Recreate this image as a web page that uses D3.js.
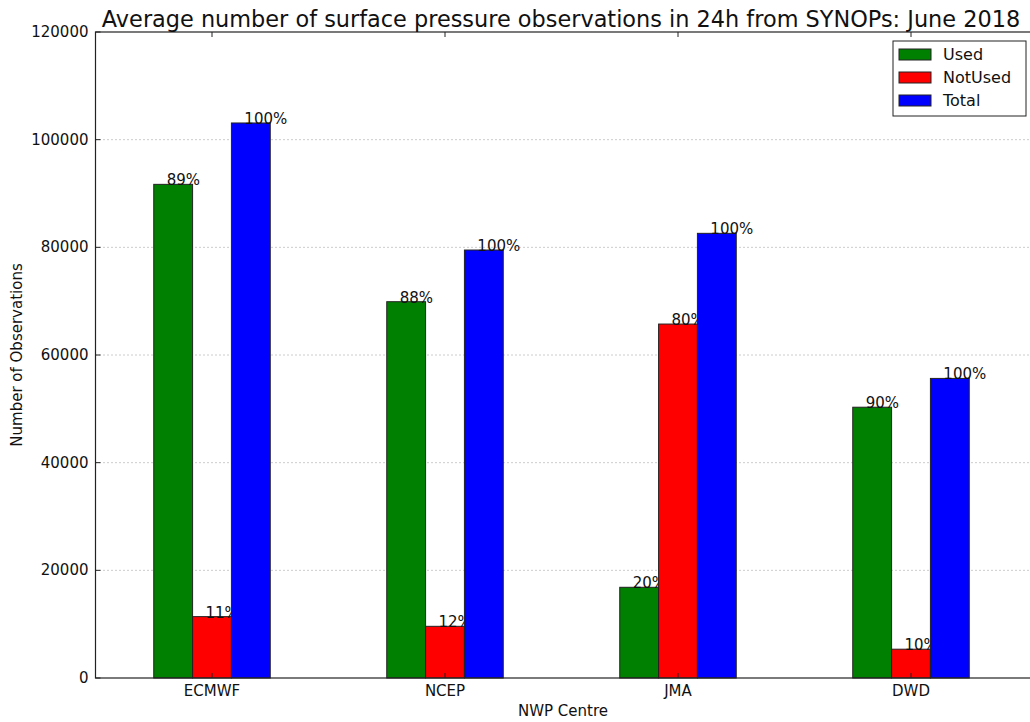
<!DOCTYPE html>
<html>
<head>
<meta charset="utf-8">
<script src="https://cdn.jsdelivr.net/npm/d3@7"></script>
<style>
  body { margin: 0; background: #fff; }
  svg { display: block; font-family: "DejaVu Sans", sans-serif; }
</style>
</head>
<body>
<svg id="chart" width="1030" height="722"></svg>
<script>
// data
const centres = ["ECMWF", "NCEP", "JMA", "DWD"];
const used = [91700, 69900, 16850, 50300];
const notUsed = [11400, 9600, 65750, 5350];
const total = [103100, 79500, 82600, 55650];
const usedPct = ["89%", "88%", "20%", "90%"];
const notUsedPct = ["11%", "12%", "80%", "10%"];
const totalPct = ["100%", "100%", "100%", "100%"];
const seriesNames = ["Used", "NotUsed", "Total"];
const seriesColors = ["#008000", "#ff0000", "#0000ff"];
const yTicks = [0, 20000, 40000, 60000, 80000, 100000, 120000];

const svg = d3.select("#chart");
const pLeft = 95.5, pRight = 1038, pTop = 32, pBottom = 678;

let x = d3.scaleLinear().domain([-0.5, 3.54]).range([pLeft, pLeft + 4.04 * 233]);
let y = d3.scaleLinear().domain([0, 120000]).range([pBottom, pTop]);
const barW = x(1 / 6) - x(0);

// grid lines
svg.append("g")
    .selectAll("line")
    .data(yTicks.slice(1, -1))
    .join("line")
    .attr("x1", pLeft).attr("x2", pRight)
    .attr("y1", d => y(d)).attr("y2", d => y(d))
    .attr("stroke", "#999")
    .attr("stroke-width", 1)
    .attr("stroke-dasharray", "1,3");

// bars
const series = [
    { vals: used, pct: usedPct, off: -0.25 },
    { vals: notUsed, pct: notUsedPct, off: -1 / 12 },
    { vals: total, pct: totalPct, off: 1 / 12 }
];
series.forEach(function (s, si) {
    let g = svg.append("g");
    g.selectAll("rect")
        .data(s.vals)
        .join("rect")
        .attr("x", (d, i) => x(i + s.off))
        .attr("y", d => y(d))
        .attr("width", barW)
        .attr("height", d => pBottom - y(d))
        .attr("fill", seriesColors[si])
        .attr("stroke", "#222")
        .attr("stroke-width", 1);
    g.selectAll("text")
        .data(s.vals)
        .join("text")
        .attr("x", (d, i) => x(i + s.off) + barW / 3)
        .attr("y", d => y(d) + 1)
        .attr("font-size", "15px")
        .attr("fill", "#111")
        .text((d, i) => s.pct[i]);
});

// axes frame
svg.append("rect")
    .attr("x", pLeft).attr("y", pTop)
    .attr("width", pRight - pLeft).attr("height", pBottom - pTop)
    .attr("fill", "none").attr("stroke", "#222").attr("stroke-width", 1.2);

// y ticks (inside) and labels
let yg = svg.append("g");
yg.selectAll("line")
    .data(yTicks)
    .join("line")
    .attr("x1", pLeft).attr("x2", pLeft + 5)
    .attr("y1", d => y(d)).attr("y2", d => y(d))
    .attr("stroke", "#222");
yg.selectAll("text")
    .data(yTicks)
    .join("text")
    .attr("x", pLeft - 7)
    .attr("y", d => y(d) + 5)
    .attr("text-anchor", "end")
    .attr("font-size", "15px")
    .attr("fill", "#111")
    .text(d => d);

// x ticks top and bottom, labels
let xg = svg.append("g");
xg.selectAll("line.b")
    .data(centres)
    .join("line")
    .attr("class", "b")
    .attr("x1", (d, i) => x(i)).attr("x2", (d, i) => x(i))
    .attr("y1", pBottom).attr("y2", pBottom - 5)
    .attr("stroke", "#222");
xg.selectAll("line.t")
    .data(centres)
    .join("line")
    .attr("class", "t")
    .attr("x1", (d, i) => x(i)).attr("x2", (d, i) => x(i))
    .attr("y1", pTop).attr("y2", pTop + 5)
    .attr("stroke", "#222");
xg.selectAll("text")
    .data(centres)
    .join("text")
    .attr("x", (d, i) => x(i))
    .attr("y", 696)
    .attr("text-anchor", "middle")
    .attr("font-size", "15px")
    .attr("fill", "#111")
    .text(d => d);

// axis titles
svg.append("text")
    .attr("x", 563).attr("y", 716)
    .attr("text-anchor", "middle")
    .attr("font-size", "15px")
    .attr("fill", "#111")
    .text("NWP Centre");
svg.append("text")
    .attr("transform", "translate(22,355) rotate(-90)")
    .attr("text-anchor", "middle")
    .attr("font-size", "15px")
    .attr("fill", "#111")
    .text("Number of Observations");
svg.append("text")
    .attr("x", 561).attr("y", 27)
    .attr("text-anchor", "middle")
    .attr("font-size", "22.4px")
    .attr("fill", "#111")
    .text("Average number of surface pressure observations in 24h from SYNOPs: June 2018");

// legend
let lg = svg.append("g").attr("transform", "translate(893,41)");
lg.append("rect")
    .attr("width", 133).attr("height", 75)
    .attr("fill", "#fff").attr("stroke", "#222").attr("stroke-width", 1);
lg.selectAll("rect.sw")
    .data(seriesNames)
    .join("rect")
    .attr("class", "sw")
    .attr("x", 6).attr("y", (d, i) => 8 + i * 23)
    .attr("width", 32).attr("height", 11)
    .attr("fill", (d, i) => seriesColors[i])
    .attr("stroke", "#222");
lg.selectAll("text")
    .data(seriesNames)
    .join("text")
    .attr("x", 50).attr("y", (d, i) => 19 + i * 23)
    .attr("font-size", "16px")
    .attr("fill", "#111")
    .text(d => d);
</script>
</body>
</html>
